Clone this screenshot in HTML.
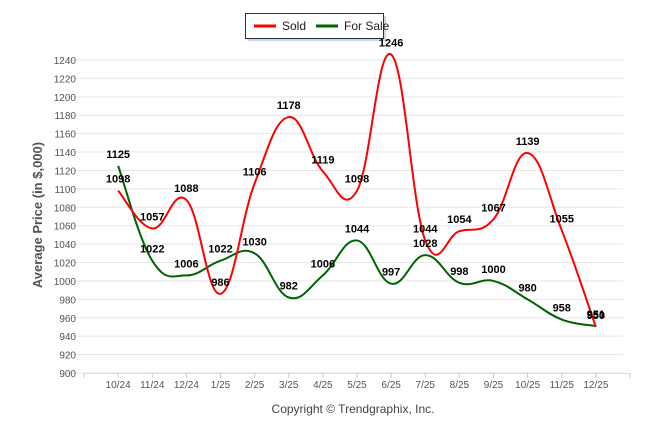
<!DOCTYPE html>
<html><head><meta charset="utf-8"><style>
body{margin:0;background:#fff;font-family:"Liberation Sans",sans-serif}
svg text{font-family:"Liberation Sans",sans-serif}
</style></head><body>
<svg id="chart" width="646" height="434" xmlns="http://www.w3.org/2000/svg">
<g>
<rect x="248" y="16" width="138" height="25" fill="#888" opacity="0.35"/>
<rect x="245.5" y="13.5" width="138" height="25" fill="#fff" stroke="#1f3358" stroke-width="1"/>
<line x1="254" y1="26" x2="276" y2="26" stroke="#f00" stroke-width="3"/>
<text x="282" y="30" font-size="12" fill="#222">Sold</text>
<line x1="316" y1="26" x2="338" y2="26" stroke="#006400" stroke-width="3"/>
<text x="344" y="30" font-size="12" fill="#222">For Sale</text>
</g>
<text transform="translate(42,215) rotate(-90)" text-anchor="middle" font-size="13" font-weight="bold" fill="#555">Average Price (in $,000)</text>
<text x="353" y="413" text-anchor="middle" font-size="12" fill="#444">Copyright © Trendgraphix, Inc.</text>
<g id="grid"></g><g id="series"></g><g id="labels"></g>
</svg>
<script>
const categories=["10/24","11/24","12/24","1/25","2/25","3/25","4/25","5/25","6/25","7/25","8/25","9/25","10/25","11/25","12/25"];
const soldValues=[1098,1057,1088,986,1106,1178,1119,1098,1246,1044,1054,1067,1139,1055,950];
const forSaleValues=[1125,1022,1006,1022,1030,982,1006,1044,997,1028,998,1000,980,958,951];
const yTicks=[900,920,940,960,980,1000,1020,1040,1060,1080,1100,1120,1140,1160,1180,1200,1220,1240];
const NS="http://www.w3.org/2000/svg";
const L=84,R=630,band=(R-L)/16;
const xs=i=>L+band*(i+1);
const ys=v=>373-(v-900)*(313/340);
function mk(t,a,p){const e=document.createElementNS(NS,t);for(const k in a)e.setAttribute(k,a[k]);p.appendChild(e);return e;}
const grid=document.getElementById('grid');
yTicks.forEach(v=>{
 const l=mk('line',{x1:67,x2:R-7,y1:ys(v),y2:ys(v),stroke:'#e6e6e6','stroke-width':1},grid);
 
 
 const t=mk('text',{x:76,y:ys(v)+4,'text-anchor':'end','font-size':10,fill:'#555'},grid);
 t.textContent=v;
 
 
});
const ax=mk('line',{x1:L,x2:R,y1:ys(900)+0.5,y2:ys(900)+0.5,stroke:'#ddd'},grid);


for(let i=0;i<=16;i++){mk('line',{x1:L+band*i,x2:L+band*i,y1:ys(900),y2:ys(900)+5,stroke:'#ccc'},grid);}
categories.forEach((c,i)=>{
 const t=mk('text',{x:xs(i),y:388,'text-anchor':'middle','font-size':10,fill:'#555'},grid);
 t.textContent=c;
 
 
});
function path(vals){
 const p=vals.map((v,i)=>[xs(i),ys(v)]);
 let d='M'+p[0][0]+','+p[0][1];
 for(let i=0;i<p.length-1;i++){
  const p0=p[i-1]||p[i],p1=p[i],p2=p[i+1],p3=p[i+2]||p2;
  const k=0.2;
  d+=` C${p1[0]+(p2[0]-p0[0])*k},${p1[1]+(p2[1]-p0[1])*k} ${p2[0]-(p3[0]-p1[0])*k},${p2[1]-(p3[1]-p1[1])*k} ${p2[0]},${p2[1]}`;
 }
 return d;
}
const ser=document.getElementById('series'),lab=document.getElementById('labels');
[[forSaleValues,'#006400','for-sale'],[soldValues,'#f00','sold']].forEach(([vals,col,name])=>{
 const pa=mk('path',{d:path(vals),fill:'none',stroke:col,'stroke-width':2},ser);
 
 
 vals.forEach((v,i)=>{
  const t=mk('text',{x:xs(i),y:ys(v)-8,'text-anchor':'middle','font-size':11,'font-weight':'bold',fill:'#000'},lab);
  t.textContent=v;
  
  
 });
});
</script>
</body></html>
